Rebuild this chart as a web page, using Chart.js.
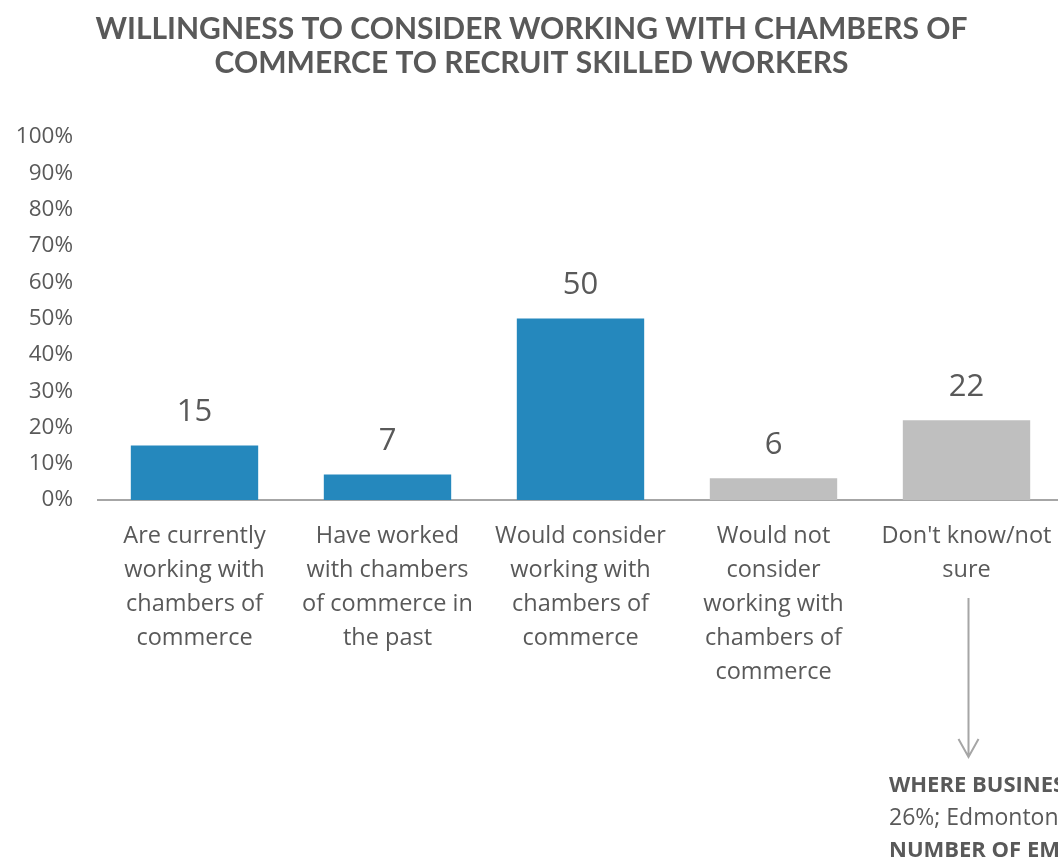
<html><head><meta charset="UTF-8"/>
<title>Chambers of Commerce</title>
<script src="https://cdn.jsdelivr.net/npm/chart.js"></script>
<style>
* {
    margin: 0;
    padding: 0;
    box-sizing: border-box;
}

html, body {
    background: #ffffff;
    overflow: hidden;
}

.chart-wrap {
    width: 1080px;
    height: 862px;
}
</style>
</head>
<body>
<div class="chart-wrap">
    <canvas id="willingnessChart" width="1080" height="862"></canvas>
</div>

<script>
const titleLines = ['WILLINGNESS TO CONSIDER WORKING WITH CHAMBERS OF', 'COMMERCE TO RECRUIT SKILLED WORKERS'];

const categories = [
    ['Are currently', 'working with', 'chambers of', 'commerce'],
    ['Have worked', 'with chambers', 'of commerce in', 'the past'],
    ['Would consider', 'working with', 'chambers of', 'commerce'],
    ['Would not', 'consider', 'working with', 'chambers of', 'commerce'],
    ["Don't know/not", 'sure']
];

const shares = [15, 7, 50, 6, 22];

// first three answers are the "open to it" group, the rest are grey
const barColors = ['#2588bd', '#2588bd', '#2588bd', '#bfbfbf', '#bfbfbf'];

const yTicks = [0, 10, 20, 30, 40, 50, 60, 70, 80, 90, 100];

const noteLines = [
    { text: 'WHERE BUSINESS IS LOCATED: Calgary', bold: true },
    { text: '26%; Edmonton', bold: false },
    { text: 'NUMBER OF EMPLOYEES', bold: true }
];

const TEXT = '#595959';
const FONT = "'Open Sans', sans-serif";
const TITLE_FONT = "Lato, 'Open Sans', sans-serif";

// value labels above each bar
const valueLabels = {
    id: 'valueLabels',
    afterDatasetsDraw(chart) {
        const ctx = chart.ctx;
        const meta = chart.getDatasetMeta(0);
        ctx.save();
        ctx.fillStyle = TEXT;
        ctx.font = '31px ' + FONT;
        ctx.textAlign = 'center';
        ctx.textBaseline = 'middle';
        meta.data.forEach((bar, i) => {
            ctx.fillText(String(shares[i]), bar.x, bar.y - 33);
        });
        ctx.restore();
    }
};

// arrow from the last category down to the breakdown note
const breakdownNote = {
    id: 'breakdownNote',
    afterDraw(chart) {
        const ctx = chart.ctx;
        const x = chart.scales.x.getPixelForValue(4) + 2;
        const top = 598;
        const tip = 757;
        ctx.save();
        ctx.strokeStyle = '#a6a6a6';
        ctx.lineWidth = 2;
        ctx.beginPath();
        ctx.moveTo(x, top);
        ctx.lineTo(x, tip);
        ctx.moveTo(x - 10, tip - 18);
        ctx.lineTo(x, tip);
        ctx.lineTo(x + 10, tip - 18);
        ctx.stroke();

        ctx.fillStyle = TEXT;
        ctx.textAlign = 'left';
        ctx.textBaseline = 'middle';
        noteLines.forEach((line, i) => {
            ctx.font = (line.bold ? 'bold 22px ' : '23px ') + FONT;
            ctx.fillText(line.text, 889, 786 + i * 32.5);
        });
        ctx.restore();
    }
};

new Chart(document.getElementById('willingnessChart'), {
    type: 'bar',
    data: {
        labels: categories,
        datasets: [{
            data: shares,
            backgroundColor: barColors,
            borderWidth: 0,
            categoryPercentage: 1,
            barPercentage: 0.66
        }]
    },
    options: {
        responsive: false,
        animation: false,
        layout: {
            padding: { left: 0, right: 17, top: 0, bottom: 0 }
        },
        plugins: {
            legend: { display: false },
            tooltip: { enabled: false },
            title: {
                display: true,
                text: titleLines,
                color: TEXT,
                font: { family: TITLE_FONT, size: 30, weight: 'bold', lineHeight: 1.15 },
                padding: { top: 12, bottom: 56 }
            }
        },
        scales: {
            x: {
                grid: { display: false, drawTicks: false },
                border: { display: true, color: '#a6a6a6', width: 2 },
                ticks: {
                    color: TEXT,
                    font: { family: FONT, size: 23.5, lineHeight: 1.45 },
                    padding: 19,
                    maxRotation: 0,
                    autoSkip: false
                },
                afterFit(scale) {
                    scale.height = 362;
                }
            },
            y: {
                min: 0,
                max: 100,
                afterBuildTicks(scale) {
                    scale.ticks = yTicks.map(v => ({ value: v }));
                },
                grid: { display: false, drawTicks: false },
                border: { display: false },
                ticks: {
                    color: TEXT,
                    font: { family: FONT, size: 22.5 },
                    padding: 25,
                    callback: v => v + '%'
                },
                afterFit(scale) {
                    scale.width = 98;
                }
            }
        }
    },
    plugins: [valueLabels, breakdownNote]
});
</script>
</body></html>
